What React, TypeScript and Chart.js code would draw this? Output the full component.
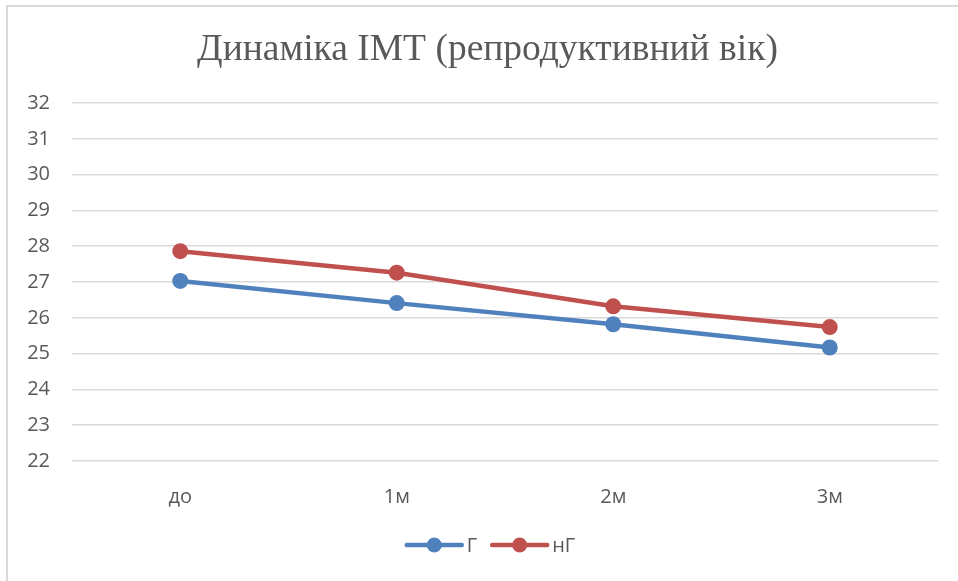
import React, { useEffect, useRef } from "react";
import { Chart, registerables } from "chart.js";

Chart.register(...registerables);

const categories = ["до", "1м", "2м", "3м"];
const seriesG = [27.03, 26.41, 25.82, 25.17];
const seriesNG = [27.86, 27.26, 26.32, 25.74];
const seriesNames = ["Г", "нГ"];
const yMin = 22;
const yMax = 32;
const titleText = "Динаміка ІМТ (репродуктивний вік)";

const BLUE = "#4F81BD";
const RED = "#C0504D";
const TEXT = "#595959";
const FONT = "'Open Sans', 'Noto Sans', sans-serif";

const titlePlugin = {
  id: "customTitle",
  afterDraw(chart: any) {
    const ctx = chart.ctx;
    ctx.save();
    ctx.font = "37.5px 'Liberation Serif', 'DejaVu Serif', serif";
    ctx.fillStyle = TEXT;
    ctx.textAlign = "center";
    ctx.textBaseline = "alphabetic";
    ctx.fillText(titleText, 487.5, 60);
    ctx.restore();
  },
};

const legendPlugin = {
  id: "customLegend",
  afterDraw(chart: any) {
    const ctx = chart.ctx;
    const datasets = chart.data.datasets;
    ctx.save();
    ctx.font = "20px " + FONT;
    const lineLen = 55;
    const gapText = 5;
    const gapItem = 15;
    const widths = datasets.map((d: any) => lineLen + gapText + ctx.measureText(d.label).width);
    const total = widths.reduce((a: number, b: number) => a + b, 0) + gapItem * (datasets.length - 1);
    let x = 491 - total / 2;
    const y = chart.height - 36;
    datasets.forEach((d: any, i: number) => {
      ctx.strokeStyle = d.borderColor;
      ctx.lineWidth = 4.5;
      ctx.lineCap = "round";
      ctx.beginPath();
      ctx.moveTo(x, y);
      ctx.lineTo(x + lineLen, y);
      ctx.stroke();
      ctx.fillStyle = d.borderColor;
      ctx.beginPath();
      ctx.arc(x + lineLen / 2, y, 7.5, 0, Math.PI * 2);
      ctx.fill();
      ctx.fillStyle = TEXT;
      ctx.textAlign = "left";
      ctx.textBaseline = "middle";
      ctx.fillText(d.label, x + lineLen + gapText, y + 1);
      x += widths[i] + gapItem;
    });
    ctx.restore();
  },
};

export default function App() {
  const ref = useRef<HTMLCanvasElement | null>(null);

  useEffect(() => {
    if (!ref.current) return;
    const chart = new Chart(ref.current, {
      type: "line",
      data: {
        labels: categories,
        datasets: [
          {
            label: seriesNames[0],
            data: seriesG,
            borderColor: BLUE,
            backgroundColor: BLUE,
            pointBackgroundColor: BLUE,
            pointBorderColor: BLUE,
            borderWidth: 4.5,
            pointRadius: 8,
            pointBorderWidth: 0,
            tension: 0,
          },
          {
            label: seriesNames[1],
            data: seriesNG,
            borderColor: RED,
            backgroundColor: RED,
            pointBackgroundColor: RED,
            pointBorderColor: RED,
            borderWidth: 4.5,
            pointRadius: 8,
            pointBorderWidth: 0,
            tension: 0,
          },
        ],
      },
      options: {
        responsive: false,
        animation: false,
        devicePixelRatio: 1,
        layout: { padding: { left: 0, right: 20, top: 103, bottom: 73 } },
        plugins: {
          legend: { display: false },
          title: { display: false },
          tooltip: { enabled: false },
        },
        scales: {
          x: {
            offset: true,
            grid: { display: false, drawTicks: false },
            border: { display: false },
            ticks: { color: TEXT, font: { family: FONT, size: 20 }, padding: 24 },
            afterFit: (s: any) => {
              s.height = 47;
            },
          },
          y: {
            min: yMin,
            max: yMax,
            grid: { color: "#d9d9d9", lineWidth: 1.5, drawTicks: false },
            border: { display: false },
            ticks: { stepSize: 1, color: TEXT, font: { family: FONT, size: 20 }, padding: 22 },
            afterFit: (s: any) => {
              s.width = 72;
            },
          },
        },
      },
      plugins: [titlePlugin, legendPlugin],
    });
    return () => chart.destroy();
  }, []);

  return (
    <div style={{ position: "fixed", left: 0, top: 0, width: 958, height: 581, background: "#fff" }}>
      <canvas ref={ref} width={958} height={581} style={{ position: "absolute", left: 0, top: 0 }} />
      <div style={{ position: "absolute", left: 6, top: 5, width: 952, height: 2, background: "#d9d9d9" }} />
      <div style={{ position: "absolute", left: 6, top: 5, width: 2, height: 576, background: "#d9d9d9" }} />
    </div>
  );
}
